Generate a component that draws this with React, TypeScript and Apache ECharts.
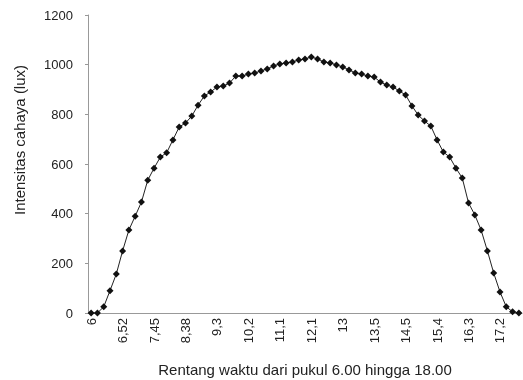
import React, { useEffect, useRef } from "react";
import * as echarts from "echarts";

const tickLabels = ["6", "6,52", "7,45", "8,38", "9,3", "10,2", "11,1", "12,1", "13", "13,5", "14,5", "15,4", "16,3", "17,2"];
const labelEvery = 5;

const intensity = [
  0, 0, 25, 90, 157, 250, 334, 390, 447, 535,
  583, 628, 645, 697, 749, 765, 793, 837, 874, 890,
  910, 914, 926, 954, 954, 962, 966, 975, 983, 995,
  1003, 1007, 1011, 1019, 1023, 1031, 1023, 1011, 1007, 999,
  991, 979, 966, 962, 954, 950, 930, 918, 910, 894,
  878, 834, 797, 773, 753, 697, 648, 628, 583, 544,
  443, 395, 334, 250, 161, 85, 25, 5, 0,
];

const categories = intensity.map((_, i) => String(i));

const yTitle = "Intensitas cahaya (lux)";
const xTitle = "Rentang waktu dari pukul 6.00 hingga 18.00";

export default function App() {
  const ref = useRef<HTMLDivElement>(null);
  useEffect(() => {
    if (!ref.current) return;
    const chart = echarts.init(ref.current, null, { renderer: "svg" });
    const font = "Liberation Sans, Arial, sans-serif";
    chart.setOption({
      animation: false,
      textStyle: { fontFamily: font },
      grid: {
        left: 88,
        right: 1,
        top: 15,
        bottom: 67,
        containLabel: false,
        outerBoundsMode: "none",
      },
      xAxis: {
        type: "category",
        data: categories,
        boundaryGap: true,
        axisLine: { lineStyle: { color: "#999", width: 1 } },
        axisTick: { interval: 0, length: 4, lineStyle: { color: "#999" } },
        axisLabel: {
          interval: labelEvery - 1,
          rotate: 90,
          fontSize: 13,
          color: "#222",
          margin: 5,
          fontFamily: font,
          formatter: (_v: string, idx: number) => tickLabels[idx / labelEvery] ?? "",
        },
        splitLine: { show: false },
        name: xTitle,
        nameLocation: "middle",
        nameGap: 49,
        nameTextStyle: { fontSize: 15, color: "#222", fontFamily: font },
      },
      yAxis: {
        type: "value",
        min: 0,
        max: 1200,
        interval: 200,
        axisLine: { show: true, lineStyle: { color: "#999", width: 1 } },
        axisTick: { show: true, length: 3, lineStyle: { color: "#999" } },
        axisLabel: {
          fontSize: 13,
          color: "#222",
          margin: 15,
          fontFamily: font,
          formatter: (v: number) => String(v),
        },
        splitLine: { show: false },
        name: yTitle,
        nameLocation: "middle",
        nameGap: 61,
        nameTextStyle: {
          fontSize: 15,
          color: "#222",
          fontFamily: font,
          padding: [0, 0, 0, 48],
        },
      },
      series: [
        {
          type: "line",
          data: intensity,
          symbol: "diamond",
          symbolSize: 7,
          showSymbol: true,
          showAllSymbol: true,
          lineStyle: { color: "#222", width: 1 },
          itemStyle: { color: "#111" },
        },
      ],
    });
    return () => chart.dispose();
  }, []);
  return (
    <div
      ref={ref}
      style={{ position: "fixed", left: 0, top: 0, width: 523, height: 380 }}
    />
  );
}
